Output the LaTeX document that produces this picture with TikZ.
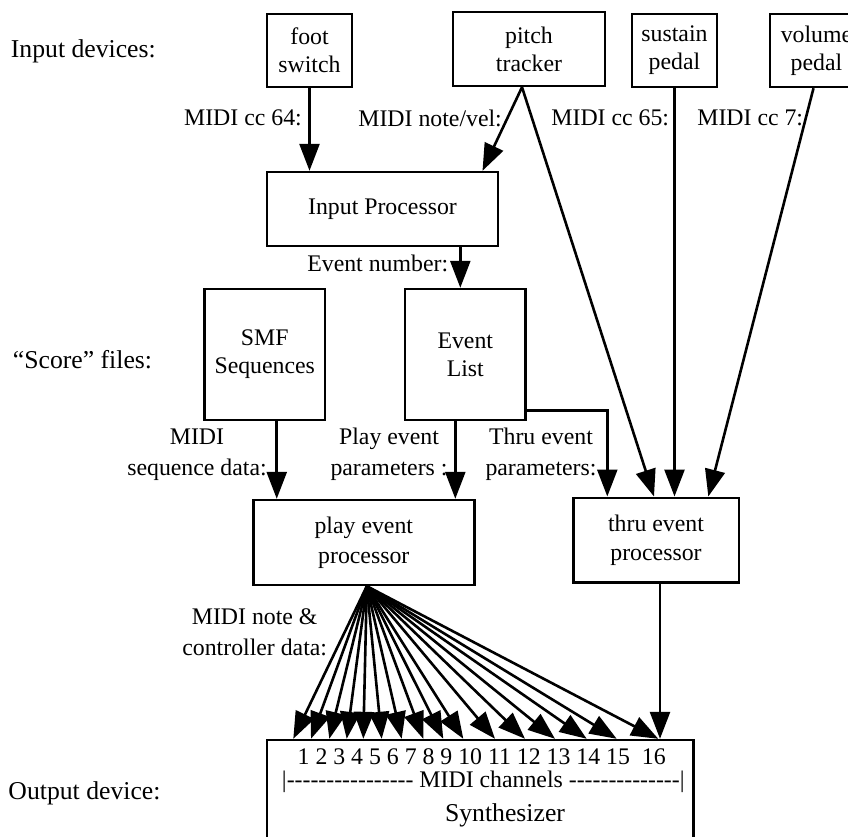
\documentclass[tikz,border=0pt]{standalone}
\usepackage{fontspec}
\setmainfont{Liberation Serif}
\usetikzlibrary{arrows.meta,calc}
\newcommand\hyps[1]{\foreach\k in {1,...,#1}{\mbox{-}}}
\begin{document}
\begin{tikzpicture}[x=1pt,y=-1pt,
  box/.style={draw,line width=2.4pt,inner sep=0pt,align=center,font=\fontsize{23.8}{28}\selectfont},
  lbl/.style={inner sep=0pt,align=center,font=\fontsize{23.8}{30.5}\selectfont},
  side/.style={inner sep=0pt,anchor=west,font=\fontsize{25.7}{30}\selectfont},
  arr/.style={line width=2.6pt,-{Triangle[length=27pt,width=20pt]}},
  link/.style={line width=2.6pt}]
\clip (0,0) rectangle (848,837);
% boxes
\node[box,minimum width=85pt,minimum height=73pt] (foot) at (309.5,50.5) {foot\\switch};
\node[box,minimum width=152pt,minimum height=74pt] (pitch) at (529,49) {pitch\\tracker};
\node[box,minimum width=85pt,minimum height=73pt] (sustain) at (674.5,50.5) {sustain\\pedal};
\node[box,minimum width=93pt,minimum height=73pt] (volume) at (816.5,50.5) {volume\\pedal};
\node[box,minimum width=231pt,minimum height=74pt] (inproc) at (382.5,209) {Input Processor};
\node[box,minimum width=120.5pt,minimum height=131pt] (smf) at (264.75,354.5) {SMF\\Sequences};
\node[box,minimum width=120.7pt,minimum height=131pt] (evlist) at (465.3,354.5) {Event\\List};
\node[box,minimum width=221pt,minimum height=85pt,font=\fontsize{23.8}{30}\selectfont] (play) at (363.8,542.5) {play event\\processor};
\node[box,minimum width=165.4pt,minimum height=84.6pt,font=\fontsize{23.8}{29}\selectfont] (thru) at (656,540) {thru event\\processor};
\node[box,minimum width=426.6pt,minimum height=140pt] (synth) at (480,810) {};
% texts inside synthesizer
\node[lbl] (nums) at (481.7,756.7) {1 2 3 4 5 6 7 8 9 10 11 12 13 14 15\ \ 16};
\node[lbl] (chans) at (483.3,782) {|\hyps{16} MIDI channels \hyps{14}|};
\node[lbl,font=\fontsize{25.7}{30}\selectfont] (synthtxt) at (505,815) {Synthesizer};
% side labels
\node[side] (sin) at (10.7,51) {Input devices:};
\node[side] (sscore) at (12.7,360) {“Score” files:};
\node[side] (sout) at (8.3,793) {Output device:};
% helper coordinates
\coordinate (pout) at ([xshift=-7pt]pitch.south);
\coordinate (evin) at ([xshift=-5pt]evlist.north);
\coordinate (smfout) at ([xshift=12pt]smf.south);
\coordinate (evout) at ([xshift=-10pt]evlist.south);
\coordinate (evside) at ([yshift=11pt]evlist.south east);
\coordinate (thruin) at ([xshift=-48.7pt]thru.north);
\coordinate (thruout) at ([xshift=4pt]thru.south);
\coordinate (fan) at ([xshift=3pt]play.south);
% connectors
\draw[arr] (foot.south) -- (foot.south |- inproc.north);
\draw[arr] (pout) -- ([xshift=100pt]inproc.north);
\draw[arr] (pout) -- ([xshift=-2pt]thru.north);
\draw[arr] (sustain.south) -- (sustain.south |- thru.north);
\draw[arr] ([xshift=-3pt]volume.south) -- ([xshift=52.3pt]thru.north);
\draw[arr] (evin |- inproc.south) -- (evin);
\draw[arr] (smfout) -- (smfout |- play.north);
\draw[arr] (evout) -- (evout |- play.north);
\draw[arr] (evside) -| (thruin);
\draw[arr] (thruout) -- (thruout |- synth.north);
\foreach \i/\x in {1/293.3,2/311,3/329.3,4/346.7,5/363.3,6/381.7,7/401.7,8/423.3,9/443.3,10/463.3,11/495,12/525,13/555,14/586.7,15/616.7,16/658.3}{
  \coordinate (ch\i) at ($(synth.north)+(\x-480,0)$);
}
\foreach \i in {1,...,16}{\draw[arr] (fan) -- (ch\i);}
% connector labels
\node[lbl,anchor=east] (l64) at (302,118) {MIDI cc 64:};
\node[lbl,anchor=east] (lnote) at (502,118) {MIDI note/vel:};
\node[lbl,anchor=east] (l65) at (669.3,118) {MIDI cc 65:};
\node[lbl,anchor=east] (l7) at (803.3,118) {MIDI cc 7:};
\node[lbl,anchor=east] (levn) at (448.3,263) {Event number:};
\node[lbl] (lseq) at (197,454.5) {MIDI\\sequence data:};
\node[lbl] (lplay) at (389,454.5) {Play event\\parameters :};
\node[lbl] (lthru) at (541,454.5) {Thru event\\parameters:};
\node[lbl] (lnotes) at (254.7,632) {MIDI note \&\\controller data:};
\end{tikzpicture}
\end{document}
